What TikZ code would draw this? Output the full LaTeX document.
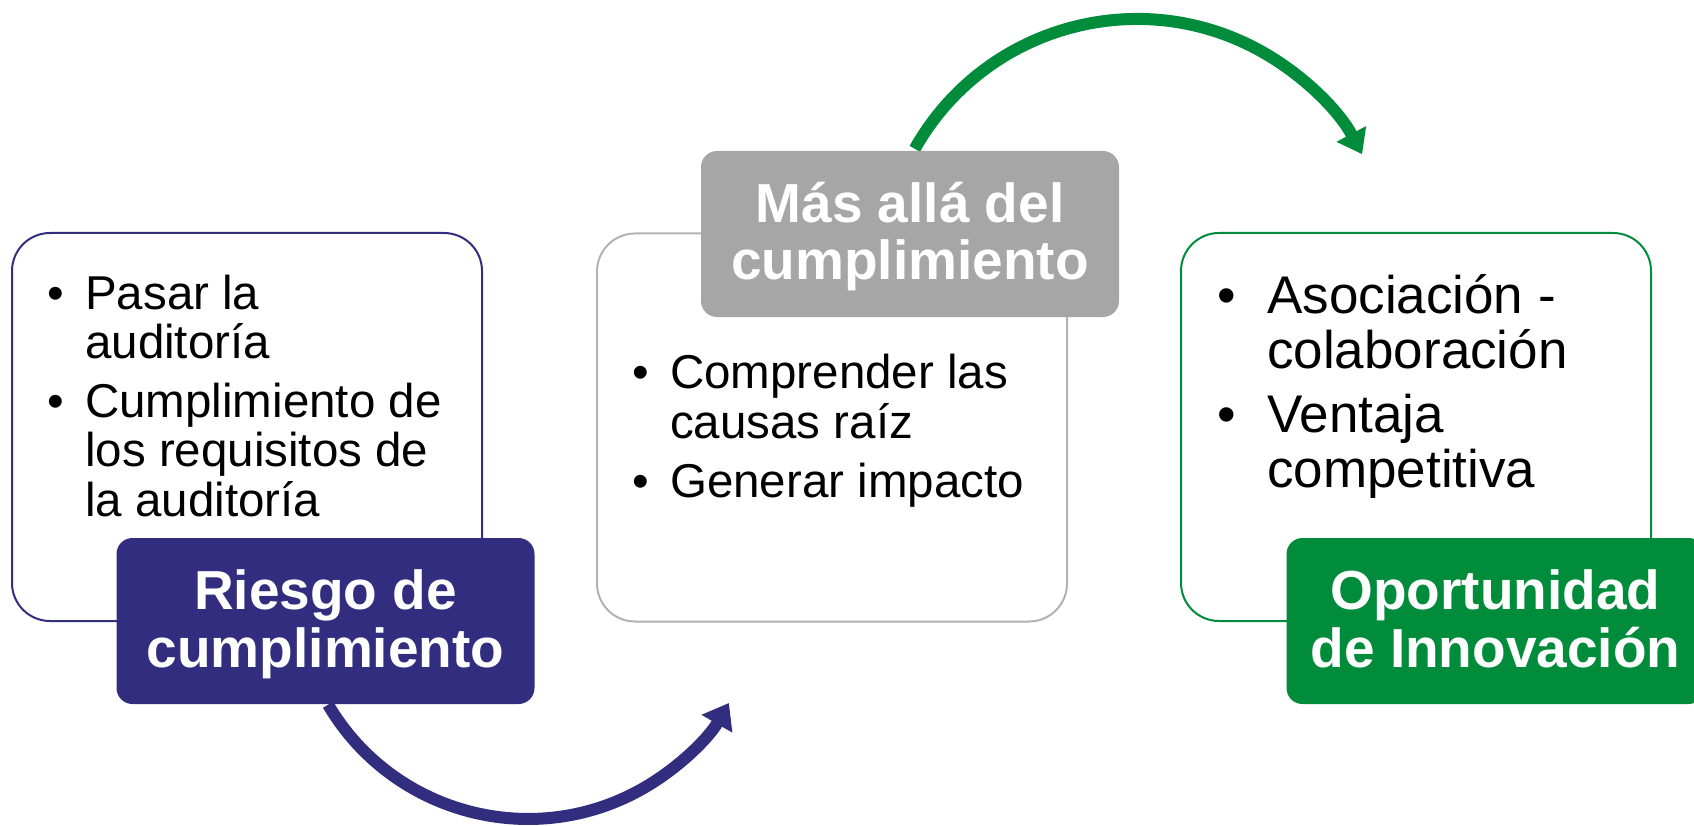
\documentclass[tikz,border=0pt]{standalone}
\usepackage{fontspec}
\setmainfont{Liberation Sans}
\usetikzlibrary{arrows.meta}
\definecolor{navy}{RGB}{50,45,127}
\definecolor{grn}{RGB}{0,140,58}
\definecolor{taggray}{RGB}{166,166,166}
\definecolor{linegray}{RGB}{178,178,178}
\begin{document}
\begin{tikzpicture}[x=1pt,y=-1pt,
  frame/.style={draw, line width=2pt, rounded corners=38pt, minimum width=470pt,
    minimum height=388pt, inner sep=0pt, outer sep=0pt, fill=white},
  tag/.style={rounded corners=16pt, minimum width=418pt, minimum height=166pt,
    inner sep=0pt, outer sep=0pt},
  tagtext/.style={anchor=base, inner sep=0pt, text=white,
    font={\fontsize{55}{57.5}\selectfont\bfseries}},
  body/.style={anchor=base west, inner sep=0pt, text=black},
  curve/.style={line width=12pt},
]
\useasboundingbox (0,0) rectangle (1694,826);

% arrows (behind boxes)
\coordinate (a1) at (328.1,704.7);
\coordinate (a2) at (914.8,148.8);
\draw[curve, draw=navy, -{Triangle[length=24pt,width=34pt]}]
  (a1) arc[start angle=149.5, end angle=30, radius=232];
\draw[curve, draw=grn, -{Triangle[length=23pt,width=32pt]}]
  (a2) arc[start angle=209.4, end angle=332, radius=255];

% frames
\node[frame, draw=navy] (f1) at (247,427) {};
\node[frame, draw=linegray] (f2) at (832,427.5) {};
\node[frame, draw=grn] (f3) at (1416,427) {};

% body texts
\node[body, font={\fontsize{47.5}{49.5}\selectfont}] (t1) at (47.7,309) {%
  \begin{tabular}[t]{@{}l@{}l@{}}
  \makebox[37.3pt][l]{•} & Pasar la\\
   & auditoría\\[9pt]
  \makebox[37.3pt][l]{•} & Cumplimiento de\\
   & los requisitos de\\
   & la auditoría
  \end{tabular}};
\node[body, font={\fontsize{47.5}{50.5}\selectfont}] (t2) at (632.7,388) {%
  \begin{tabular}[t]{@{}l@{}l@{}}
  \makebox[37.3pt][l]{•} & Comprender las\\
   & causas raíz\\[8pt]
  \makebox[37.3pt][l]{•} & Generar impacto
  \end{tabular}};
\node[body, font={\fontsize{53}{55}\selectfont}] (t3) at (1217.7,313) {%
  \begin{tabular}[t]{@{}l@{}l@{}}
  \makebox[49.3pt][l]{•} & Asociación -\\
   & colaboración\\[9pt]
  \makebox[49.3pt][l]{•} & Ventaja\\
   & competitiva
  \end{tabular}};

% tags
\node[tag, fill=navy] (g1) at (325.5,621) {};
\node[tag, fill=taggray] (g2) at (910,234) {};
\node[tag, fill=grn] (g3) at (1495.5,621) {};

\node[tagtext] (g1t) at (325.5,609.5) {\begin{tabular}[t]{@{}c@{}}Riesgo de\\cumplimiento\end{tabular}};
\node[tagtext] (g2t) at (910,222.5) {\begin{tabular}[t]{@{}c@{}}Más allá del\\cumplimiento\end{tabular}};
\node[tagtext] (g3t) at (1495.5,609.5) {\begin{tabular}[t]{@{}c@{}}Oportunidad\\de Innovación\end{tabular}};
\end{tikzpicture}
\end{document}
